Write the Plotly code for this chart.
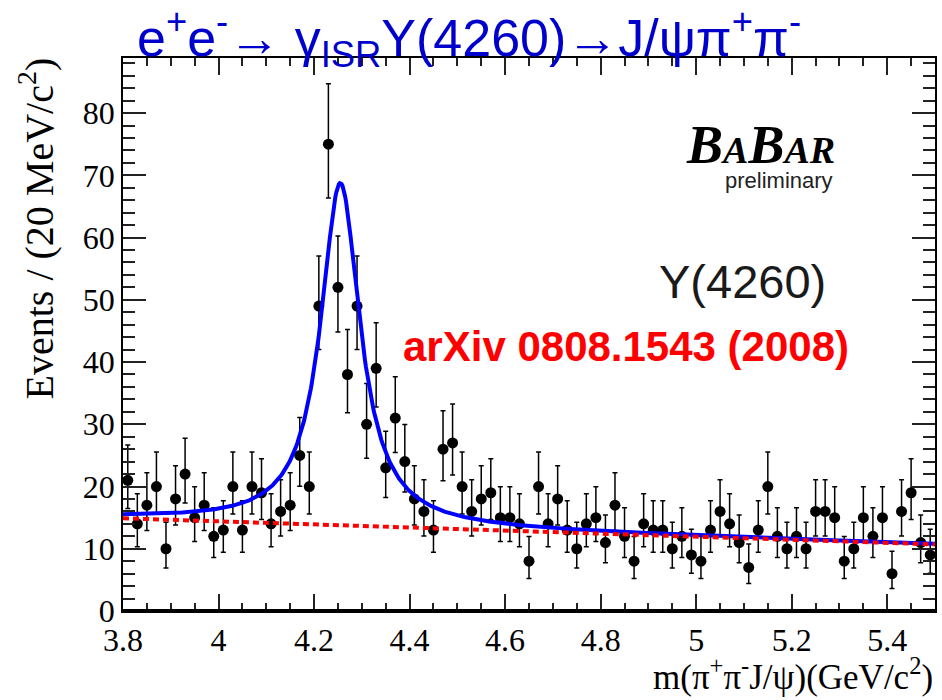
import numpy as np
import plotly.graph_objects as go

# Histogram binning of m(pi+ pi- J/psi) in GeV/c^2
BIN_LOW = 3.80
BIN_WIDTH = 0.02

# Events per 20 MeV bin
events = [21, 14, 17, 20, 10, 18, 22, 15, 17, 12,
          13, 20, 13, 20, 19, 14, 16, 17, 25, 20,
          49, 75, 52, 38, 49, 30, 39, 23, 31, 24,
          18, 16, 13, 26, 27, 20, 16, 18, 19, 15,
          15, 14, 8, 20, 14, 18, 13, 10, 14, 15,
          11, 17, 12, 8, 14, 13, 13, 10, 12, 9,
          8, 13, 16, 14, 11, 7, 13, 20, 12, 10,
          12, 10, 16, 16, 15, 8, 10, 15, 12, 15,
          6, 16, 19, 11, 9]

# Fit result: Breit-Wigner resonance on a linear background
res_mass = 4.255
res_width = 0.100
res_peak = 55.0
bkg_low = 14.9   # background level at 3.8 GeV/c^2
bkg_high = 10.7  # background level at 5.5 GeV/c^2

x_range = [3.8, 5.5]
y_range = [0, 88.85]
x_tickvals = [3.8, 4.0, 4.2, 4.4, 4.6, 4.8, 5.0, 5.2, 5.4]
x_ticktext = ["3.8", "4", "4.2", "4.4", "4.6", "4.8", "5", "5.2", "5.4"]
y_tickvals = [0, 10, 20, 30, 40, 50, 60, 70, 80]
y_ticktext = ["0", "10", "20", "30", "40", "50", "60", "70", "80"]

# Bin centres and Poisson (Gehrels) error bars
n = np.array(events, dtype=float)
centres = BIN_LOW + BIN_WIDTH * (np.arange(len(events)) + 0.5)
err_hi = 1.0 + np.sqrt(n + 0.75)
err_lo = n - n * (1.0 - 1.0 / (9.0 * n) - 1.0 / (3.0 * np.sqrt(n))) ** 3

# Fit curves
xf = np.linspace(x_range[0], x_range[1], 900)
bkg = bkg_low + (bkg_high - bkg_low) * (xf - x_range[0]) / (x_range[1] - x_range[0])
half = res_width / 2.0
sig = res_peak * half ** 2 / ((xf - res_mass) ** 2 + half ** 2)
total = bkg + sig

SERIF = "Liberation Serif"
SANS = "Liberation Sans"

fig = go.Figure()
fig.add_trace(go.Scatter(
    x=centres, y=n, mode="markers",
    marker=dict(color="black", size=11, symbol="circle"),
    error_y=dict(type="data", symmetric=False, array=err_hi, arrayminus=err_lo,
                 color="black", thickness=1.5, width=2.5),
    showlegend=False, hoverinfo="skip"))
fig.add_trace(go.Scatter(
    x=xf, y=total, mode="lines",
    line=dict(color="#0000FF", width=4), showlegend=False, hoverinfo="skip"))
fig.add_trace(go.Scatter(
    x=xf, y=bkg, mode="lines",
    line=dict(color="#FF0000", width=4, dash="6px,4px"), showlegend=False, hoverinfo="skip"))

fig.update_layout(
    width=942, height=700,
    margin=dict(l=123, r=5, t=58, b=89),
    paper_bgcolor="white", plot_bgcolor="white",
    font=dict(family=SERIF, size=32, color="black"),
)

fig.update_xaxes(
    range=x_range, tickmode="array", tickvals=x_tickvals, ticktext=x_ticktext,
    showgrid=False, zeroline=False, showline=True, linecolor="black", linewidth=1.5,
    mirror="allticks", ticks="inside", ticklen=17, tickwidth=1.5, tickcolor="#222",
    tickfont=dict(family=SERIF, size=32, color="black"),
    minor=dict(tick0=3.8, dtick=0.05, ticklen=8, ticks="inside",
               tickwidth=1.5, tickcolor="#222"),
)
fig.update_yaxes(
    range=y_range, tickmode="array", tickvals=y_tickvals, ticktext=y_ticktext,
    showgrid=False, zeroline=False, showline=True, linecolor="black", linewidth=1.5,
    mirror="allticks", ticks="inside", ticklen=23, tickwidth=1.5, tickcolor="#222",
    tickfont=dict(family=SERIF, size=32, color="black"),
    minor=dict(tick0=0, dtick=2, ticklen=12, ticks="inside",
               tickwidth=1.5, tickcolor="#222"),
)

# Thick line along the bottom of the frame
fig.add_shape(type="line", xref="paper", yref="paper", x0=0, x1=1, y0=0, y1=0,
              line=dict(color="black", width=4))

annotations = [
    dict(text="e<sup>+</sup>e<sup>-</sup>→ γ<sub>ISR</sub>Y(4260)→J/ψπ<sup>+</sup>π<sup>-</sup>",
         x=0.4263, y=1.0354, xanchor="center", yanchor="middle",
         font=dict(family=SANS, size=52, color="#0000CC")),
    dict(text="<b><i>B<span style='font-size:38px'>A</span>B<span style='font-size:38px'>AR</span></i></b>",
         x=0.7850, y=0.843, xanchor="center", yanchor="middle",
         font=dict(family=SERIF, size=54, color="black")),
    dict(text="preliminary", x=0.8771, y=0.7790, xanchor="right", yanchor="middle",
         font=dict(family=SANS, size=22, color="#222")),
    dict(text="Y(4260)", x=0.7629, y=0.5967, xanchor="center", yanchor="middle",
         font=dict(family=SANS, size=47, color="#1a1a1a")),
    dict(text="<b>arXiv 0808.1543 (2008)</b>", x=0.6192, y=0.4774,
         xanchor="center", yanchor="middle",
         font=dict(family=SANS, size=42, color="#FF0000")),
    dict(text="Events / (20 MeV/c<sup>2</sup>)", textangle=-90,
         x=-0.1070, y=0.692, xanchor="center", yanchor="middle",
         font=dict(family=SERIF, size=40, color="black")),
    dict(text="m(π<sup>+</sup>π<sup>-</sup>J/ψ)(GeV/c<sup>2</sup>)",
         x=1.0, y=-0.114, xanchor="right", yanchor="middle",
         font=dict(family=SERIF, size=35, color="black")),
]
for a in annotations:
    a.update(xref="paper", yref="paper", showarrow=False)
fig.update_layout(annotations=annotations)

fig.write_html("out.html")
